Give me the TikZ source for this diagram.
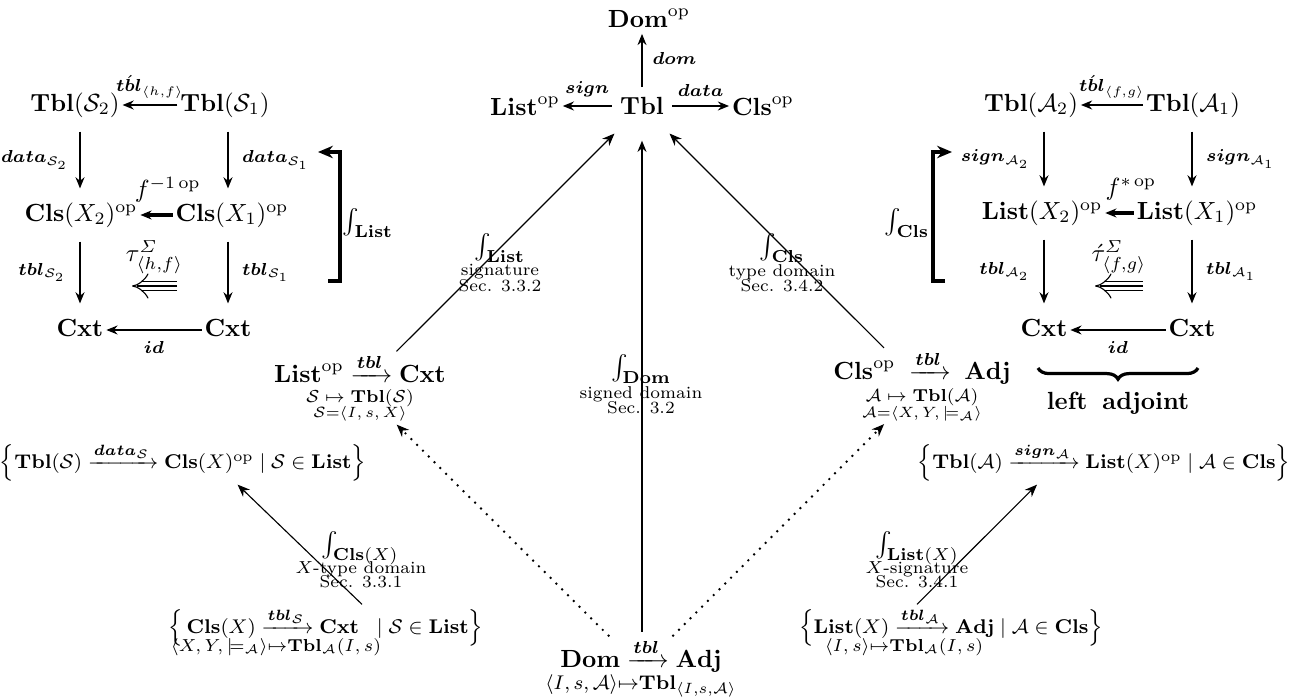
\documentclass[tikz,border=0pt]{standalone}
\usepackage{amsmath,amssymb,bm}
\usetikzlibrary{arrows.meta,decorations.pathreplacing}
\newcommand{\lb}[1]{{\fontsize{7.5}{9}\selectfont$#1$}}
\begin{document}
\begin{tikzpicture}[x=0.403pt,y=-0.403pt,
  n/.style={inner sep=1pt},
  sq/.style={inner sep=1pt,text height=7.5pt,text depth=2.5pt},
  ar/.style={-{Stealth[length=4.5pt,width=3.6pt]},line width=0.8pt},
  vr/.style={ar,shorten <=4.5pt,shorten >=4.5pt},
  thinar/.style={-{Stealth[length=5pt,width=4pt]},line width=0.45pt},
  dots/.style={-{Stealth[length=5pt,width=4pt]},line width=1.1pt,dash pattern=on 0pt off 3.3pt,line cap=round},
  brk/.style={-{Stealth[length=6pt,width=5pt]},line width=1.5pt},
  lab/.style={inner sep=1pt,font=\fontsize{6.9}{8}\selectfont},
  tri/.style={double,double distance=3.2pt,line width=0.45pt,-{Implies}},
  mid/.style={line width=0.45pt,shorten >=2pt},
  setf/.style={inner sep=1pt,font=\fontsize{8.2}{10}\selectfont}
]
\useasboundingbox (0,0) rectangle (1299,698);

% ---- centre ----
\node[n] (domop) at (649,18) {$\mathbf{Dom}^{\mathrm{op}}$};
\node[n,minimum width=24pt,inner ysep=3.9pt] (tbl) at (642,106) {$\mathbf{Tbl}$};
\node[n] (listop) at (525,106) {$\mathbf{List}^{\mathrm{op}}$};
\node[n] (clsop) at (763,106) {$\mathbf{Cls}^{\mathrm{op}}$};
\draw[ar,shorten >=1.5pt] (tbl) -- (tbl |- domop.south) node[midway,right=0.5pt]{\lb{\bm{dom}}};
\draw[ar] (tbl) -- (listop) node[midway,above=0pt]{\lb{\bm{sign}}};
\draw[ar] (tbl) -- (clsop) node[midway,above=0pt]{\lb{\bm{data}}};

% ---- top-left square ----
\node[sq] (ts2) at (75,105) {$\mathbf{Tbl}(\mathcal{S}_2)$};
\node[sq] (ts1) at (225,105) {$\mathbf{Tbl}(\mathcal{S}_1)$};
\node[sq] (cx2) at (81,215) {$\mathbf{Cls}(X_2)^{\mathrm{op}}$};
\node[sq] (cx1) at (232,215) {$\mathbf{Cls}(X_1)^{\mathrm{op}}$};
\node[sq] (cxtA) at (80,330) {$\mathbf{Cxt}$};
\node[sq] (cxtB) at (228,330) {$\mathbf{Cxt}$};
\draw[ar] (ts1) -- (ts2) node[midway,above=-1pt]{\lb{\acute{\bm{tbl}}_{\langle h,f\rangle}}};
\draw[ar,line width=1.3pt] (cx1) -- (cx2) node[pos=0.15,above=1pt]{$f^{-1\,\mathrm{op}}$};
\draw[ar] (cxtB) -- (cxtA) node[midway,below=1pt]{\lb{\bm{id}}};
\draw[vr] (cxtA |- ts2.south) -- (cxtA |- cx2.north) node[midway,left=1pt]{\lb{\bm{data}_{\mathcal{S}_2}}};
\draw[vr] (cxtB |- ts1.south) -- (cxtB |- cx1.north) node[midway,right=2pt]{\lb{\bm{data}_{\mathcal{S}_1}}};
\draw[vr] (cxtA |- cx2.south) -- (cxtA.north) node[midway,left=2pt]{\lb{\bm{tbl}_{\mathcal{S}_2}}};
\draw[vr] (cxtB |- cx1.south) -- (cxtB.north) node[midway,right=2pt]{\lb{\bm{tbl}_{\mathcal{S}_1}}};
\coordinate (tauR) at (177,286);
\coordinate (tauL) at (132,286);
\draw[tri] (tauR) -- (tauL) node[midway,above=1.5pt]{$\tau^{\varSigma}_{\langle h,f\rangle}$};
\draw[mid] (tauR) -- (tauL);
\draw[brk] (328,281) -- (340,281) -- (340,152) -- (318,152);
\node[n] (intList) at (368,223) {$\int_{\mathbf{List}}$};

% ---- top-right square ----
\node[sq] (ta2) at (1031,105) {$\mathbf{Tbl}(\mathcal{A}_2)$};
\node[sq] (ta1) at (1193,105) {$\mathbf{Tbl}(\mathcal{A}_1)$};
\node[sq] (lx2) at (1042,213) {$\mathbf{List}(X_2)^{\mathrm{op}}$};
\node[sq] (lx1) at (1197,213) {$\mathbf{List}(X_1)^{\mathrm{op}}$};
\node[sq] (cxtC) at (1044,330) {$\mathbf{Cxt}$};
\node[sq] (cxtD) at (1192,330) {$\mathbf{Cxt}$};
\draw[ar] (ta1) -- (ta2) node[midway,above=-1pt]{\lb{\acute{\bm{tbl}}_{\langle f,g\rangle}}};
\draw[ar,line width=1.3pt] (lx1) -- (lx2) node[pos=0.1,above=1pt]{$f^{*\,\mathrm{op}}$};
\draw[ar] (cxtD) -- (cxtC) node[midway,below=1pt]{\lb{\bm{id}}};
\draw[vr] (cxtC |- ta2.south) -- (cxtC |- lx2.north) node[midway,left=2pt]{\lb{\bm{sign}_{\mathcal{A}_2}}};
\draw[vr] (cxtD |- ta1.south) -- (cxtD |- lx1.north) node[midway,right=2pt]{\lb{\bm{sign}_{\mathcal{A}_1}}};
\draw[vr] (cxtC |- lx2.south) -- (cxtC.north) node[midway,left=2pt]{\lb{\bm{tbl}_{\mathcal{A}_2}}};
\draw[vr] (cxtD |- lx1.south) -- (cxtD.north) node[midway,right=2pt]{\lb{\bm{tbl}_{\mathcal{A}_1}}};
\coordinate (tauR2) at (1143,286);
\coordinate (tauL2) at (1095,286);
\draw[tri] (tauR2) -- (tauL2) node[midway,above=1.5pt]{$\acute{\tau}^{\varSigma}_{\langle f,g\rangle}$};
\draw[mid] (tauR2) -- (tauL2);
\draw[brk] (945,281) -- (933,281) -- (933,152) -- (952,152);
\node[n] (intCls) at (907,223) {$\int_{\mathbf{Cls}}$};
\draw[line width=1.3pt,decorate,decoration={brace,mirror,amplitude=4.5pt}] (1038,368) -- (1198,368);
\node[n] (ladj) at (1118,403) {\textbf{left\hspace{0.6em}adjoint}};

% ---- middle ----
\node[n,align=center] (lt) at (360,388) {$\mathbf{List}^{\mathrm{op}}\xrightarrow{\bm{tbl}}\mathbf{Cxt}$\\[-4.3pt]
  {\fontsize{7.2}{8}\selectfont$\mathcal{S}\mapsto\mathbf{Tbl}(\mathcal{S})$}\\[-5.6pt]
  {\fontsize{6.1}{7}\selectfont$\mathcal{S}{=}\langle I,s,X\rangle$}};
\node[n,align=center] (cr) at (922,386) {$\mathbf{Cls}^{\mathrm{op}}\;\xrightarrow{\bm{tbl}}\;\mathbf{Adj}$\\[-3.1pt]
  {\fontsize{7.3}{8}\selectfont$\mathcal{A}\mapsto\mathbf{Tbl}(\mathcal{A})$}\\[-5.6pt]
  {\fontsize{6.3}{7}\selectfont$\mathcal{A}{=}\langle X,Y,\models_{\mathcal{A}}\rangle$}};
\node[n,align=center] (bot) at (641,668) {$\mathbf{Dom}\xrightarrow{\bm{tbl}}\mathbf{Adj}$\\[-3.1pt]
  {\footnotesize$\langle I,s,\mathcal{A}\rangle{\mapsto}\mathbf{Tbl}_{\langle I,s,\mathcal{A}\rangle}$}};

\node[n] (intDom) at (641,369) {$\int_{\mathbf{Dom}}$};
\node[lab] (sdom) at (641,394) {signed domain};
\node[lab] (sec32) at (641,408) {Sec. 3.2};
\node[n] (intList2) at (500,248) {$\int_{\mathbf{List}}$};
\node[lab] (sig) at (500,272) {signature};
\node[lab] (sec332) at (500,286) {Sec. 3.3.2};
\node[n] (intCls2) at (782,248) {$\int_{\mathbf{Cls}}$};
\node[lab] (tdom) at (782,272) {type domain};
\node[lab] (sec342) at (782,286) {Sec. 3.4.2};

\draw[ar,line width=1.2pt,shorten <=1.5pt,shorten >=6.4pt] (bot.north -| tbl) -- (tbl.south);
\draw[thinar,shorten >=5pt] (lt) -- (tbl);
\draw[thinar,shorten >=5pt] (cr) -- (tbl);
\draw[dots] (bot) -- (lt);
\draw[dots] (bot) -- (cr);

% ---- sets ----
\node[setf] (ls) at (183,462) {$\Bigl\{\mathbf{Tbl}(\mathcal{S})\xrightarrow{\bm{data}_{\mathcal{S}}}\mathbf{Cls}(X)^{\mathrm{op}}\mid\mathcal{S}\in\mathbf{List}\Bigr\}$};
\node[setf] (rs) at (1104,462) {$\Bigl\{\mathbf{Tbl}(\mathcal{A})\xrightarrow{\bm{sign}_{\mathcal{A}}}\mathbf{List}(X)^{\mathrm{op}}\mid\mathcal{A}\in\mathbf{Cls}\Bigr\}$};
\node[setf] (bl) at (326,627) {$\Bigl\{\,\mathbf{Cls}(X)\xrightarrow{\bm{tbl}_{\mathcal{S}}}\mathbf{Cxt}\;\;\mid\mathcal{S}\in\mathbf{List}\Bigr\}$};
\node[n] (blsub) at (276,647) {\fontsize{7}{8}\selectfont$\langle X,Y,\models_{\mathcal{A}}\rangle{\mapsto}\mathbf{Tbl}_{\mathcal{A}}(I,s)$};
\node[setf] (br) at (951,627) {$\Bigl\{\mathbf{List}(X)\xrightarrow{\bm{tbl}_{\mathcal{A}}}\mathbf{Adj}\mid\mathcal{A}\in\mathbf{Cls}\Bigr\}$};
\node[n] (brsub) at (904,647) {\fontsize{6.8}{8}\selectfont$\langle I,s\rangle{\mapsto}\mathbf{Tbl}_{\mathcal{A}}(I,s)$};

\draw[thinar] ([xshift=14.5pt]bl.north) -- ([xshift=22pt]ls.south);
\draw[thinar] ([xshift=-13.7pt]br.north) -- ([xshift=-27pt]rs.south);
\node[n] (intClsX) at (360,548) {$\int_{\mathbf{Cls}(X)}$};
\node[lab] (xtd) at (361,569) {$X$-type domain};
\node[lab] (sec331) at (361,582) {Sec. 3.3.1};
\node[n] (intListX) at (917,548) {$\int_{\mathbf{List}(X)}$};
\node[lab] (xsig) at (917,569) {$X$-signature};
\node[lab] (sec341) at (917,582) {Sec. 3.4.1};
\end{tikzpicture}
\end{document}
